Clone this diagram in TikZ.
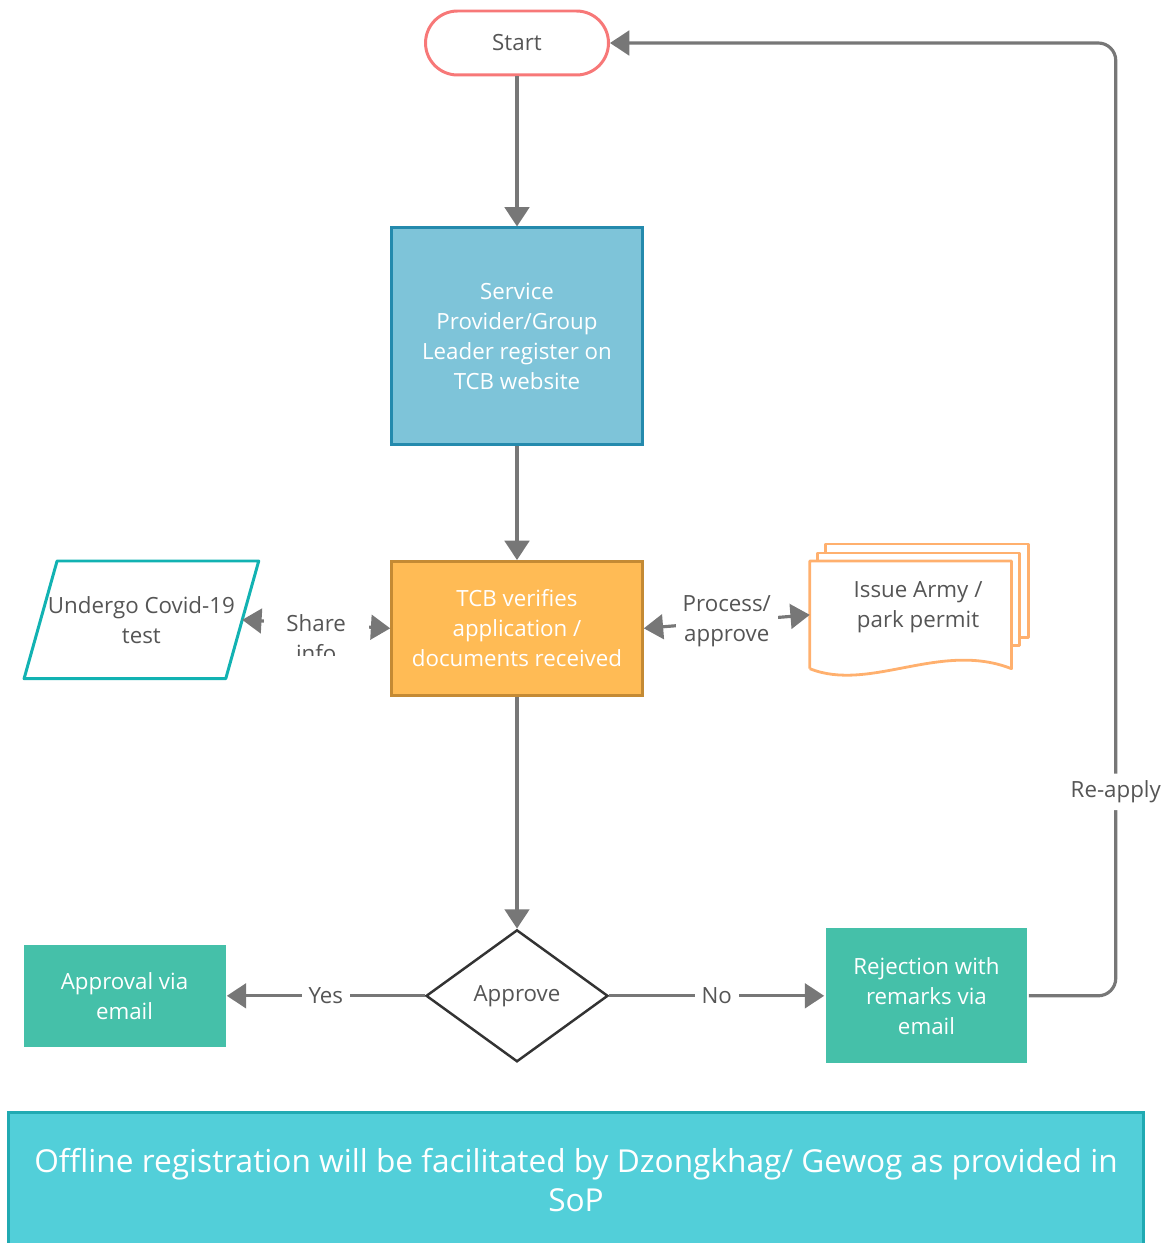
\documentclass[tikz,border=0pt]{standalone}
\usepackage{fontspec}
\setmainfont{Open Sans}
\usepackage{xcolor}
\usepackage{tikz}
\usetikzlibrary{arrows.meta,positioning,shapes.geometric}

\definecolor{linegray}{RGB}{119,119,119}
\definecolor{textgray}{RGB}{85,85,85}
\definecolor{darkline}{RGB}{51,51,51}
\definecolor{startred}{RGB}{247,120,120}
\definecolor{blueface}{RGB}{126,196,217}
\definecolor{blueedge}{RGB}{36,138,173}
\definecolor{orangeface}{RGB}{255,187,85}
\definecolor{orangeedge}{RGB}{196,138,52}
\definecolor{tealedge}{RGB}{18,178,178}
\definecolor{peach}{RGB}{255,176,110}
\definecolor{mint}{RGB}{69,192,169}
\definecolor{cyanface}{RGB}{82,207,217}
\definecolor{cyanedge}{RGB}{32,170,178}

\begin{document}
\begin{tikzpicture}[x=0.02cm, y=-0.02cm, node distance=2cm,
  >={Triangle[length=11pt,width=14pt]},
  every node/.style={font=\fontsize{12.7}{17}\selectfont},
  flow/.style={->, draw=linegray, line width=1.8pt},
  lbl/.style={fill=white, text=textgray, align=center, inner sep=4pt},
  box/.style={rectangle, draw, line width=1.5pt, text=white, align=center},
  page/.style={draw=peach, line width=1.6pt, line join=round}]
\useasboundingbox (0,0) rectangle (1168,1243);

\node (start) [rectangle, rounded corners=0.64cm, draw=startred, line width=1.7pt, minimum width=3.66cm, minimum height=1.28cm, text=textgray] at (517,43) {Start};
\node (register) [box, fill=blueface, draw=blueedge, minimum width=5.02cm, minimum height=4.34cm, below=3.0cm of start] {Service\\Provider/Group\\Leader register on\\TCB website};
\node (verify) [box, fill=orangeface, draw=orangeedge, minimum width=5.02cm, minimum height=2.68cm, below=2.28cm of register] {TCB verifies\\application /\\documents received};
\node (approve) [diamond, draw=darkline, line width=1.4pt, fill=white, aspect=1.38, minimum width=3.64cm, minimum height=2.64cm, inner sep=0pt, text=textgray, below=4.64cm of verify] {Approve};
\node (approval) [box, fill=mint, draw=none, minimum width=4.04cm, minimum height=2.04cm, left=3.96cm of approve] {Approval via\\email};
\node (reject) [box, fill=mint, draw=none, minimum width=4.04cm, minimum height=2.7cm, right=4.3cm of approve] {Rejection with\\remarks via\\email};
\node (covid) [rectangle, minimum width=4.02cm, minimum height=2.34cm, text=textgray, align=center, left=2.96cm of verify, yshift=0.17cm] {Undergo Covid-19\\test};
\node (permit) [rectangle, minimum width=4.02cm, minimum height=2.14cm, right=3.32cm of verify, yshift=0.27cm,
  label={[text=textgray, align=center, xshift=0.15cm, yshift=0.15cm]center:Issue Army /\\park permit}] {};
\node (offline) [rectangle, fill=cyanface, draw=cyanedge, line width=1.7pt, text=white, align=center, minimum width=22.72cm, minimum height=2.72cm, font=\fontsize{18}{22.7}\selectfont] at (576,1180) {Offline registration will be facilitated by Dzongkhag/ Gewog as provided in\\SoP};

% covid test parallelogram
\draw[draw=tealedge, line width=1.7pt, line join=round] ([shift={(16.5,0)}]covid.north west) -- ([shift={(16.5,0)}]covid.north east)
  -- ([shift={(-16.5,0)}]covid.south east) -- ([shift={(-16.5,0)}]covid.south west) -- cycle;

% stacked permit pages
\draw[page] ([shift={(16,-8)}]permit.north west) -- ++(0,-9) -| ([shift={(17,-31)}]permit.south east) -- ++(-9,0);
\draw[page] ([shift={(8,0)}]permit.north west) -- ++(0,-8) -| ([shift={(8,-23)}]permit.south east) -- ++(-8,0);
\draw[page] (permit.south west) -- (permit.north west) -- (permit.north east) -- (permit.south east)
  .. controls ([shift={(-71,-28)}]permit.south east) and ([shift={(60,24)}]permit.south west) .. (permit.south west);

\draw[flow] (start) -- (register);
\draw[flow] (register) -- (verify);
\draw[flow] (verify) -- (approve);
\draw[flow] (approve) -- node[lbl] (yes) {Yes} (approval);
\draw[flow] (approve) -- node[lbl] (no) {No} (reject);
\draw[flow, <->] (verify.east) -- node[lbl] (process) {Process/\\approve} (permit.west);
\draw[flow, <->] (covid.east) -- (verify.west);
\begin{scope}
\clip (262,596) rectangle (374,655);
\path (covid.east) -- node[lbl, anchor=north, yshift=0.33cm, minimum width=2.1cm] (share) {Share\\info} (verify.west);
\end{scope}
\draw[flow, rounded corners=10pt] (reject.east) -- ++(87,0) |- node[lbl, pos=0.107] (reapply) {Re-apply} (start.east);
\end{tikzpicture}
\end{document}
